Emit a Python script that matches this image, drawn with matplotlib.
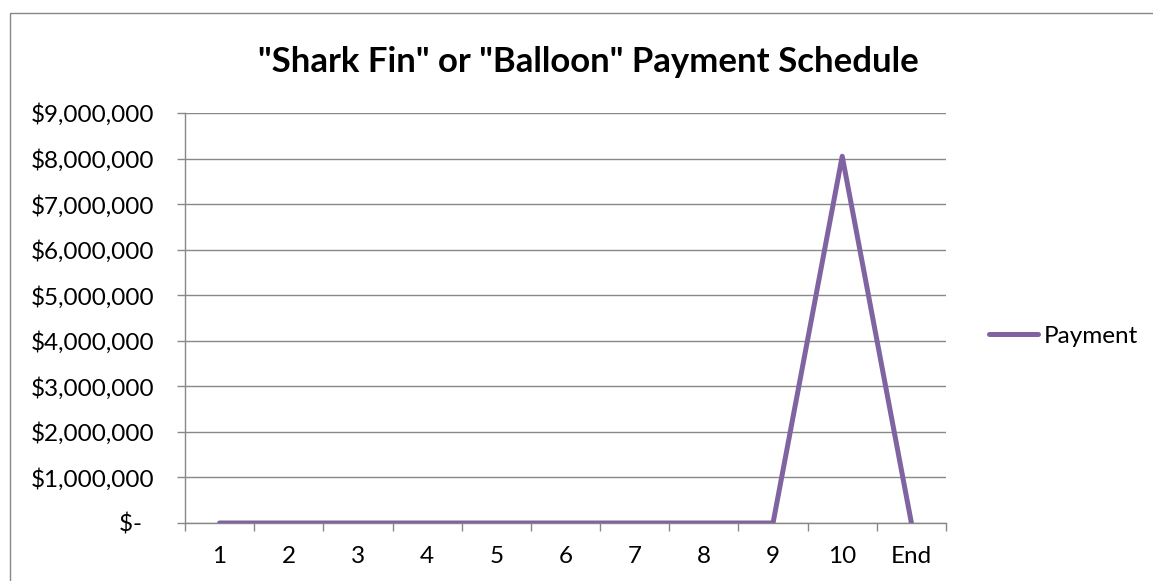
import matplotlib
matplotlib.use("Agg")
import matplotlib.pyplot as plt
from matplotlib.patches import Rectangle
from matplotlib.lines import Line2D

categories = ["1", "2", "3", "4", "5", "6", "7", "8", "9", "10", "End"]
payments = [0, 0, 0, 0, 0, 0, 0, 0, 0, 8050000, 0]
y_ticks = [0, 1000000, 2000000, 3000000, 4000000, 5000000, 6000000, 7000000, 8000000, 9000000]
y_labels = ["$-  ", "$1,000,000", "$2,000,000", "$3,000,000", "$4,000,000", "$5,000,000",
            "$6,000,000", "$7,000,000", "$8,000,000", "$9,000,000"]
title = '"Shark Fin" or "Balloon" Payment Schedule'
series_name = "Payment"

plt.rcParams['font.family'] = ['Lato', 'DejaVu Sans']
W, H = 1153, 581
fig = plt.figure(figsize=(W / 100, H / 100), dpi=100)
fig.patch.set_facecolor("white")

gray = "#888888"
purple = "#8064A2"
fs = 17.5

# outer chart border
fig.patches.append(Rectangle((10 / W, -0.05), 1.1, 1 - 13 / H + 0.05, transform=fig.transFigure,
                             fill=False, edgecolor=gray, linewidth=1.0))

ax = fig.add_axes([185 / W, 1 - 523 / H, (946 - 185) / W, (523 - 113) / H])
x = list(range(len(categories)))
ax.plot(x, payments, color=purple, linewidth=3.6, solid_capstyle="round",
        solid_joinstyle="round", label=series_name, zorder=3)

ax.set_xlim(-0.5, len(categories) - 0.5)
ax.set_ylim(0, 9000000)
ax.set_yticks(y_ticks)
ax.set_yticklabels(y_labels)
ax.set_xticks([i - 0.5 for i in range(len(categories) + 1)])
ax.set_xticklabels([])
ax.set_xticks(x, minor=True)
ax.set_xticklabels(categories, minor=True)

ax.tick_params(axis="x", which="major", length=5.5, width=1, color=gray, direction="out")
ax.tick_params(axis="x", which="minor", length=0, pad=16.5, labelsize=fs)
ax.tick_params(axis="y", length=5.8, width=1, color=gray, direction="out", pad=16.5, labelsize=fs)

ax.grid(axis="y", color=gray, linewidth=1.0)
ax.set_axisbelow(True)
for s in ["top", "right"]:
    ax.spines[s].set_visible(False)
for s in ["left", "bottom"]:
    ax.spines[s].set_color(gray)
    ax.spines[s].set_linewidth(1.0)

fig.text(588 / W, 1 - 72 / H, title, ha="center", va="baseline", fontsize=25, fontweight="bold")

handle = Line2D([0], [0], color=purple, linewidth=3.6, solid_capstyle="round")
fig.legend([handle], [series_name], loc="center left", bbox_to_anchor=(989 / W, 1 - 336 / H),
           frameon=False, fontsize=fs, handlelength=2.0, handletextpad=0.25,
           borderpad=0, borderaxespad=0)

fig.savefig("out.png", dpi=100, facecolor="white")
